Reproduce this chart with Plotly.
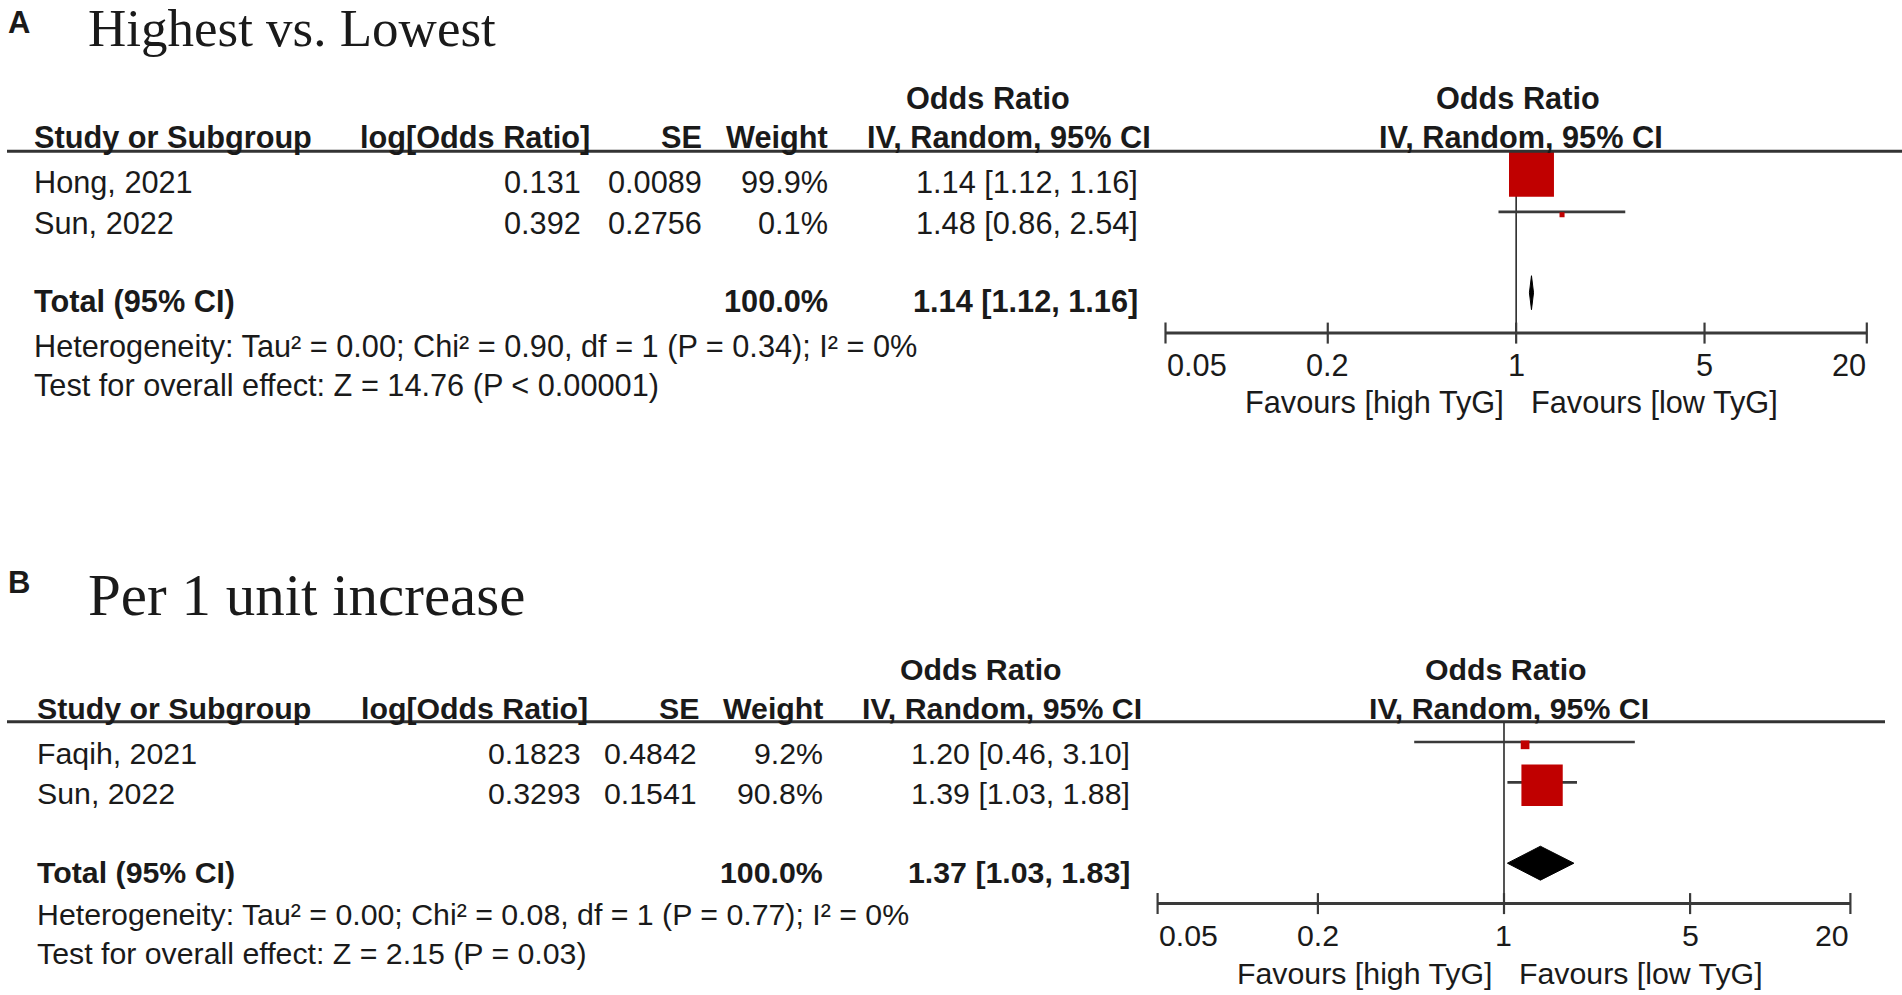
import numpy as np
import plotly.graph_objects as go

# ---------------- data ----------------
A_title = "Highest vs. Lowest"
A_studies = ["Hong, 2021", "Sun, 2022"]
A_log_or = [0.131, 0.392]
A_se = [0.0089, 0.2756]
A_weight = [99.9, 0.1]
A_or = [1.14, 1.48]
A_lo = [1.12, 0.86]
A_hi = [1.16, 2.54]
A_total = [1.14, 1.12, 1.16]
A_total_weight = 100.0
A_het = "Heterogeneity: Tau² = 0.00; Chi² = 0.90, df = 1 (P = 0.34); I² = 0%"
A_test = "Test for overall effect: Z = 14.76 (P < 0.00001)"

B_title = "Per 1 unit increase"
B_studies = ["Faqih, 2021", "Sun, 2022"]
B_log_or = [0.1823, 0.3293]
B_se = [0.4842, 0.1541]
B_weight = [9.2, 90.8]
B_or = [1.20, 1.39]
B_lo = [0.46, 1.03]
B_hi = [3.10, 1.88]
B_total = [1.37, 1.03, 1.83]
B_total_weight = 100.0
B_het = "Heterogeneity: Tau² = 0.00; Chi² = 0.08, df = 1 (P = 0.77); I² = 0%"
B_test = "Test for overall effect: Z = 2.15 (P = 0.03)"

panel_labels = ["A", "B"]
header_cols = ["Study or Subgroup", "log[Odds Ratio]", "SE", "Weight"]
header_or = ["Odds Ratio", "IV, Random, 95% CI"]
total_label = "Total (95% CI)"
tick_vals = [0.05, 0.2, 1, 5, 20]
tick_text = ["0.05", "0.2", "1", "5", "20"]
favours = ["Favours [high TyG]", "Favours [low TyG]"]

PANELS = [
    dict(title=A_title, studies=A_studies, log_or=A_log_or, se=A_se, weight=A_weight,
         orr=A_or, lo=A_lo, hi=A_hi, total=A_total, total_w=A_total_weight,
         het=A_het, test=A_test),
    dict(title=B_title, studies=B_studies, log_or=B_log_or, se=B_se, weight=B_weight,
         orr=B_or, lo=B_lo, hi=B_hi, total=B_total, total_w=B_total_weight,
         het=B_het, test=B_test),
]

# ---------------- layout / style ----------------
W, H = 1902, 995
ROW_PX = 40.4
FONT = "Liberation Sans, Arial, sans-serif"
SERIF = "Liberation Serif, Times New Roman, serif"
INK = "#1a1a1a"
RED = "#c00000"
LINE = "#3a3a3a"

GEOM = [
    dict(xa="x", ya="y", anchor_px=171.5, top_px=0, bot_px=480, axis_px=(1165.5, 1866.8),
         fs=30.7, label_x=7, label_r=-2.68, title_x=87, title_r=-2.54, title_size=53,
         study_x=33, logor_x=582, se_x=703, wt_x=829, ci_x=1139,
         h_logor_x=591, h_se_x=703, h_wt_x=829, h_ci_x=1152, h_or_x=988,
         rule_x=(7, 1902), foot_dy=(0.32, 1.29)),
    dict(xa="x2", ya="y2", anchor_px=742.0, top_px=480, bot_px=995, axis_px=(1157.6, 1850.4),
         fs=30.3, label_x=7, label_r=-2.94, title_x=87, title_r=-2.65, title_size=59,
         study_x=36, logor_x=582, se_x=698, wt_x=824, ci_x=1131,
         h_logor_x=589, h_se_x=700, h_wt_x=824, h_ci_x=1143, h_or_x=981,
         rule_x=(7, 1885), foot_dy=(0.27, 1.24)),
]

HDR1_R, HDR2_R, RULE_R = -0.80, 0.17, 0.5
TXT_OFF, TOT_OFF = 0.28, 0.22
SQ_OFF = 0.07
DIA_HALF = 0.42
TICK_HALF = 0.26

fig = go.Figure()


def add_text(text, x, y, yref, size, xref="paper", xanchor="left",
             family=FONT, bold=False, xshift=0):
    fig.add_annotation(text=f"<b>{text}</b>" if bold else text,
                       x=x, y=y, xref=xref, yref=yref, xanchor=xanchor,
                       yanchor="middle", showarrow=False, xshift=xshift,
                       borderpad=0,
                       font=dict(family=family, size=size, color=INK))


LOG_LO, LOG_HI = np.log10(tick_vals[0]), np.log10(tick_vals[-1])
PAD_DEC = 0.05

for i, (p, g) in enumerate(zip(PANELS, GEOM)):
    xa, ya = g["xa"], g["ya"]
    fs = g["fs"]
    n = len(p["studies"])
    rows = list(range(1, n + 1))
    tot_r = n + 2
    axis_r = n + 3

    # forest axes
    x0px, x1px = g["axis_px"]
    ppd = (x1px - x0px) / (LOG_HI - LOG_LO)
    pad_px = PAD_DEC * ppd
    xkey = "xaxis" if i == 0 else "xaxis2"
    ykey = "yaxis" if i == 0 else "yaxis2"
    fig.layout[xkey] = dict(type="log", range=[LOG_LO - PAD_DEC, LOG_HI + PAD_DEC],
                            domain=[(x0px - pad_px) / W, (x1px + pad_px) / W],
                            visible=False, anchor=ya, fixedrange=True)
    r_top = 1 + (g["top_px"] - g["anchor_px"]) / ROW_PX
    r_bot = 1 + (g["bot_px"] - g["anchor_px"]) / ROW_PX
    fig.layout[ykey] = dict(range=[r_bot, r_top],
                            domain=[1 - g["bot_px"] / H, 1 - g["top_px"] / H],
                            visible=False, anchor=xa, fixedrange=True)

    # null line
    fig.add_trace(go.Scatter(x=[1, 1], y=[RULE_R, axis_r], mode="lines",
                             line=dict(color="#2a2a2a", width=1.6),
                             xaxis=xa, yaxis=ya, hoverinfo="skip", showlegend=False))
    # CI lines
    for r, lo, hi in zip(rows, p["lo"], p["hi"]):
        fig.add_trace(go.Scatter(x=[lo, hi], y=[r, r], mode="lines",
                                 line=dict(color=LINE, width=2.6),
                                 xaxis=xa, yaxis=ya, hoverinfo="skip", showlegend=False))
    # weight squares
    fig.add_trace(go.Scatter(x=p["orr"], y=[r + SQ_OFF for r in rows], mode="markers",
                             marker=dict(symbol="square", color=RED, opacity=1,
                                         size=[5 + 0.4 * w for w in p["weight"]],
                                         line=dict(width=0)),
                             cliponaxis=False, xaxis=xa, yaxis=ya,
                             hoverinfo="skip", showlegend=False))
    # diamond
    est, tlo, thi = p["total"]
    fig.add_trace(go.Scatter(x=[tlo, est, thi, est, tlo],
                             y=[tot_r, tot_r - DIA_HALF, tot_r, tot_r + DIA_HALF, tot_r],
                             mode="lines", fill="toself", fillcolor="black",
                             line=dict(color="black", width=1),
                             xaxis=xa, yaxis=ya, hoverinfo="skip", showlegend=False))
    # scale axis
    fig.add_trace(go.Scatter(x=[tick_vals[0], tick_vals[-1]], y=[axis_r, axis_r],
                             mode="lines", line=dict(color=LINE, width=3),
                             xaxis=xa, yaxis=ya, hoverinfo="skip", showlegend=False))
    tx, ty = [], []
    for t in tick_vals:
        tx += [t, t, None]
        ty += [axis_r - TICK_HALF, axis_r + TICK_HALF, None]
    fig.add_trace(go.Scatter(x=tx, y=ty, mode="lines", line=dict(color=LINE, width=2.2),
                             xaxis=xa, yaxis=ya, hoverinfo="skip", showlegend=False))
    for k, (t, tt) in enumerate(zip(tick_vals, tick_text)):
        anc = "left" if k == 0 else ("right" if k == len(tick_vals) - 1 else "center")
        add_text(tt, np.log10(t), axis_r + 0.79, ya, fs, xref=xa, xanchor=anc)
    add_text(favours[0], 0, axis_r + 1.72, ya, fs, xref=xa, xanchor="right", xshift=-11)
    add_text(favours[1], 0, axis_r + 1.72, ya, fs, xref=xa, xanchor="left", xshift=14)

    # rule under header
    fig.add_shape(type="line", xref="paper", yref=ya,
                  x0=g["rule_x"][0] / W, x1=g["rule_x"][1] / W, y0=RULE_R, y1=RULE_R,
                  line=dict(color="#333333", width=3))

    # panel label & title
    add_text(panel_labels[i], g["label_x"] / W, g["label_r"], ya, 31, bold=True)
    add_text(p["title"], g["title_x"] / W, g["title_r"], ya, g["title_size"],
             family=SERIF)

    # headers
    add_text(header_cols[0], g["study_x"] / W, HDR2_R, ya, fs, bold=True)
    add_text(header_cols[1], g["h_logor_x"] / W, HDR2_R, ya, fs, xanchor="right", bold=True)
    add_text(header_cols[2], g["h_se_x"] / W, HDR2_R, ya, fs, xanchor="right", bold=True)
    add_text(header_cols[3], g["h_wt_x"] / W, HDR2_R, ya, fs, xanchor="right", bold=True)
    add_text(header_or[0], g["h_or_x"] / W, HDR1_R, ya, fs, xanchor="center", bold=True)
    add_text(header_or[1], g["h_ci_x"] / W, HDR2_R, ya, fs, xanchor="right", bold=True)
    add_text(header_or[0], 0, HDR1_R, ya, fs, xref=xa, xanchor="center", bold=True, xshift=2)
    add_text(header_or[1], 0, HDR2_R, ya, fs, xref=xa, xanchor="center", bold=True, xshift=5)

    # study rows
    for r, s, lg, se, w, o, lo, hi in zip(rows, p["studies"], p["log_or"], p["se"],
                                          p["weight"], p["orr"], p["lo"], p["hi"]):
        yy = r + TXT_OFF
        add_text(s, g["study_x"] / W, yy, ya, fs)
        add_text(str(lg), g["logor_x"] / W, yy, ya, fs, xanchor="right")
        add_text(str(se), g["se_x"] / W, yy, ya, fs, xanchor="right")
        add_text(f"{w:.1f}%", g["wt_x"] / W, yy, ya, fs, xanchor="right")
        add_text(f"{o:.2f} [{lo:.2f}, {hi:.2f}]", g["ci_x"] / W, yy, ya, fs,
                 xanchor="right")

    # total row
    yy = tot_r + TOT_OFF
    add_text(total_label, g["study_x"] / W, yy, ya, fs, bold=True)
    add_text(f"{p['total_w']:.1f}%", g["wt_x"] / W, yy, ya, fs, xanchor="right", bold=True)
    add_text(f"{est:.2f} [{tlo:.2f}, {thi:.2f}]", g["ci_x"] / W, yy, ya, fs,
             xanchor="right", bold=True)

    # footnotes
    add_text(p["het"], g["study_x"] / W, axis_r + g["foot_dy"][0], ya, fs)
    add_text(p["test"], g["study_x"] / W, axis_r + g["foot_dy"][1], ya, fs)

fig.update_layout(width=W, height=H, autosize=False,
                  margin=dict(l=0, r=0, t=0, b=0, pad=0),
                  paper_bgcolor="white", plot_bgcolor="rgba(0,0,0,0)",
                  showlegend=False, hovermode=False)

fig.write_html("out.html", config={"displayModeBar": False},
               post_script="document.body.style.margin='0';")
